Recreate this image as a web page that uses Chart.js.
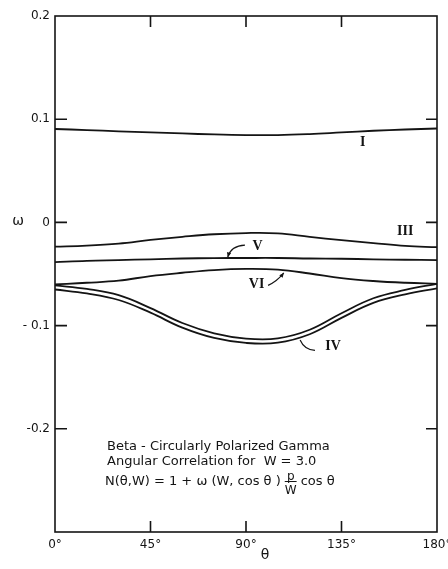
<!DOCTYPE html>
<html><head><meta charset="utf-8">
<script src="https://cdn.jsdelivr.net/npm/chart.js@4/dist/chart.umd.min.js"></script>
<style>html,body{margin:0;padding:0;background:#fff;}canvas{display:block;}</style>
</head><body>
<canvas id="c" width="448" height="569"></canvas>
<script>
// ---- data ----
const thetaDeg = [0, 15, 30, 45, 60, 75, 90, 105, 120, 135, 150, 165, 180];
const curveI   = [0.0905, 0.0895, 0.0882, 0.0873, 0.0862, 0.0852, 0.0846, 0.0846, 0.0856, 0.0872, 0.0888, 0.0900, 0.0910];
const curveIII = [-0.0235, -0.0225, -0.0205, -0.0170, -0.0140, -0.0115, -0.0103, -0.0106, -0.0140, -0.0172, -0.0200, -0.0228, -0.0240];
const curveV   = [-0.0385, -0.0372, -0.0365, -0.0358, -0.0350, -0.0346, -0.0345, -0.0345, -0.0350, -0.0352, -0.0358, -0.0362, -0.0365];
const curveVI  = [-0.0600, -0.0585, -0.0565, -0.0520, -0.0488, -0.0462, -0.0451, -0.0458, -0.0495, -0.0540, -0.0568, -0.0585, -0.0595];
const curveIVa = [-0.0610, -0.0645, -0.0705, -0.0830, -0.0975, -0.1075, -0.1126, -0.1124, -0.1040, -0.0880, -0.0735, -0.0655, -0.0595];
const curveIVb = [-0.0650, -0.0688, -0.0752, -0.0875, -0.1020, -0.1120, -0.1168, -0.1166, -0.1084, -0.0925, -0.0780, -0.0697, -0.0640];
const seriesNames = ['I', 'III', 'V', 'VI', 'IV', 'IV'];
const xTickLabels = ['0°', '45°', '90°', '135°', '180°'];
const yTickLabels = ['', '-0.2', '- 0.1', '0', '0.1', '0.2']; // for -0.3 … 0.2
const noteLines = ['Beta - Circularly Polarized Gamma', 'Angular Correlation for  W = 3.0'];
const formulaLeft = 'N(θ,W) = 1 + ω (W, cos θ )';
const formulaRight = 'cos θ';

// ---- annotation placement (data units) ----
const curveLabels = [
  {text: 'I',   x: 145,  y: 0.0775},
  {text: 'III', x: 165,  y: -0.0087},
  {text: 'V',   x: 95.5, y: -0.0230},
  {text: 'VI',  x: 95,   y: -0.0600},
  {text: 'IV',  x: 131,  y: -0.1200}
];
const leaders = [
  {from: [89.5, -0.0220], ctrl: [83.0, -0.0225], to: [81.4, -0.0335], head: true},
  {from: [100.4, -0.0610], ctrl: [104.5, -0.0575], to: [107.8, -0.0490], head: true},
  {from: [122.5, -0.1240], ctrl: [117.5, -0.1235], to: [115.5, -0.1140], head: false}
];
const notePos = {x: 24.5, y0: -0.2205, dy: -0.0148, y2: -0.2540};

const ink = '#141414';
const mk = (arr) => thetaDeg.map((t, i) => ({x: t, y: arr[i]}));
const all = [curveI, curveIII, curveV, curveVI, curveIVa, curveIVb];

const decor = {
  id: 'decor',
  beforeDraw(chart) {
    const {ctx, width, height} = chart;
    ctx.save(); ctx.fillStyle = '#fff'; ctx.fillRect(0, 0, width, height); ctx.restore();
  },
  afterDraw(chart) {
    const {ctx, chartArea: a, scales: {x, y}} = chart;
    ctx.save();
    ctx.strokeStyle = ink; ctx.fillStyle = ink;
    ctx.lineWidth = 1.6;
    ctx.strokeRect(a.left, a.top, a.right - a.left, a.bottom - a.top);
    ctx.beginPath();
    x.ticks.forEach(t => {
      if (t.value <= x.min || t.value >= x.max) return;
      const px = x.getPixelForValue(t.value);
      ctx.moveTo(px, a.bottom); ctx.lineTo(px, a.bottom - 11);
      ctx.moveTo(px, a.top); ctx.lineTo(px, a.top + 11);
    });
    y.ticks.forEach(t => {
      if (t.value <= y.min + 1e-9 || t.value >= y.max - 1e-9) return;
      const py = y.getPixelForValue(t.value);
      ctx.moveTo(a.left, py); ctx.lineTo(a.left + 12, py);
      ctx.moveTo(a.right, py); ctx.lineTo(a.right - 11, py);
    });
    ctx.stroke();

    // axis symbols
    ctx.font = '14px "DejaVu Sans"';
    ctx.textAlign = 'center'; ctx.textBaseline = 'middle';
    ctx.fillText('ω', 18, y.getPixelForValue(0) - 1);
    ctx.fillText('θ', x.getPixelForValue(99), 555);

    // curve labels
    ctx.font = 'bold 14px "Liberation Serif"';
    curveLabels.forEach(l => ctx.fillText(l.text, x.getPixelForValue(l.x), y.getPixelForValue(l.y)));

    // leaders
    ctx.lineWidth = 1.2;
    leaders.forEach(L => {
      const fx = x.getPixelForValue(L.from[0]), fy = y.getPixelForValue(L.from[1]);
      const cx = x.getPixelForValue(L.ctrl[0]), cy = y.getPixelForValue(L.ctrl[1]);
      const tx = x.getPixelForValue(L.to[0]), ty = y.getPixelForValue(L.to[1]);
      ctx.beginPath(); ctx.moveTo(fx, fy); ctx.quadraticCurveTo(cx, cy, tx, ty); ctx.stroke();
      if (L.head) {
        const ang = Math.atan2(ty - cy, tx - cx), s = 5;
        ctx.beginPath();
        ctx.moveTo(tx, ty);
        ctx.lineTo(tx - s * Math.cos(ang - 0.45), ty - s * Math.sin(ang - 0.45));
        ctx.lineTo(tx - s * Math.cos(ang + 0.45), ty - s * Math.sin(ang + 0.45));
        ctx.closePath(); ctx.fill();
      }
    });

    // note text
    ctx.font = '13px "DejaVu Sans"';
    ctx.textAlign = 'left'; ctx.textBaseline = 'alphabetic';
    const nx = x.getPixelForValue(notePos.x);
    noteLines.forEach((s, i) => ctx.fillText(s, nx, y.getPixelForValue(notePos.y0 + i * notePos.dy)));
    const by = y.getPixelForValue(notePos.y2);
    const fx0 = nx - 2;
    ctx.fillText(formulaLeft, fx0, by);
    let cx = fx0 + ctx.measureText(formulaLeft).width + 4;
    ctx.font = '12px "DejaVu Sans"';
    const fw = ctx.measureText('W').width;
    ctx.textAlign = 'center';
    ctx.fillText('p', cx + fw / 2, by - 5);
    ctx.fillText('W', cx + fw / 2, by + 9);
    ctx.lineWidth = 1; ctx.beginPath(); ctx.moveTo(cx, by - 3); ctx.lineTo(cx + fw, by - 3); ctx.stroke();
    ctx.font = '13px "DejaVu Sans"'; ctx.textAlign = 'left';
    ctx.fillText(formulaRight, cx + fw + 4, by);
    ctx.restore();
  }
};

new Chart(document.getElementById('c'), {
  type: 'line',
  data: {
    datasets: all.map((arr, i) => ({
      label: seriesNames[i],
      data: mk(arr),
      borderColor: ink,
      borderWidth: 1.8,
      pointRadius: 0,
      fill: false,
      tension: 0.4
    }))
  },
  options: {
    responsive: false,
    animation: false,
    devicePixelRatio: 1,
    layout: {padding: {top: 16, right: 11, left: 0, bottom: 0}},
    plugins: {legend: {display: false}, tooltip: {enabled: false}, title: {display: false}},
    scales: {
      x: {
        type: 'linear', min: 0, max: 180,
        grid: {display: false, drawTicks: false},
        border: {display: false},
        ticks: {
          stepSize: 45, padding: 6, color: ink, maxRotation: 0,
          font: {family: 'DejaVu Sans', size: 12},
          callback: (v) => xTickLabels[Math.round(v / 45)]
        },
        afterFit(s) { s.height = 37; s.paddingLeft = 0; s.paddingRight = 0; }
      },
      y: {
        type: 'linear', min: -0.3, max: 0.2,
        grid: {display: false, drawTicks: false},
        border: {display: false},
        ticks: {
          stepSize: 0.1, padding: 5, color: ink,
          font: {family: 'DejaVu Sans', size: 12},
          callback: (v) => yTickLabels[Math.round(v * 10) + 3]
        },
        afterFit(s) { s.width = 55; s.paddingTop = 0; s.paddingBottom = 0; }
      }
    }
  },
  plugins: [decor]
});
</script>
</body></html>
